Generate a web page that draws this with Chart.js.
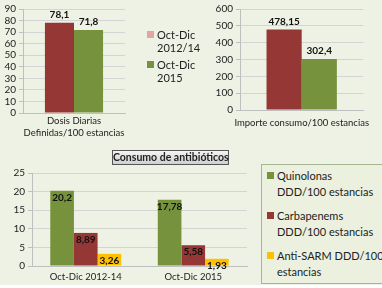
<!DOCTYPE html>
<html>
<head>
<meta charset="utf-8">
<script src="https://cdn.jsdelivr.net/npm/chart.js@4.4.0/dist/chart.umd.min.js"></script>
<style>
  html, body { margin: 0; padding: 0; background: #fff; }
  #page { position: relative; width: 382px; height: 285px; background: #eef2e4; overflow: hidden;
          font-family: Lato, 'Open Sans', sans-serif; color: #222; }
  canvas { position: absolute; }
  .leg { position: absolute; font-size: 11px; line-height: 13px; }
  .leg .sw { display: inline-block; width: 7px; height: 7px; margin-right: 3px; vertical-align: 1px; }
  #title { position: absolute; left: 112px; top: 150px; width: 115px; height: 13px; border: 1px solid #555;
           background: linear-gradient(#f4f4f4, #cfcfcf); font-weight: bold; font-size: 10.5px; line-height: 13px;
           text-align: center; white-space: nowrap; }
  #leg3 { position: absolute; left: 261px; top: 164px; width: 130px; height: 118px; border: 1px solid #a5b591;
          background: #ebf1de; font-size: 11px; line-height: 16px; }
  #leg3 div { position: absolute; left: 5px; white-space: nowrap; }
  #leg3 .sw { display: inline-block; width: 7px; height: 7px; margin-right: 3px; vertical-align: 1px; }
</style>
</head>
<body>
<div id="page">
  <canvas id="c1" width="135" height="140" style="left:0;top:0"></canvas>
  <canvas id="c2" width="192" height="140" style="left:190px;top:0"></canvas>
  <canvas id="c3" width="255" height="122" style="left:0;top:163px"></canvas>

  <div class="leg" style="left:147px;top:28px">
    <div><span class="sw" style="background:#e6a3a6"></span>Oct-Dic</div>
    <div style="padding-left:10px">2012/14</div>
    <div style="margin-top:4px"><span class="sw" style="background:#76923c"></span>Oct-Dic</div>
    <div style="padding-left:10px">2015</div>
  </div>

  <div id="title">Consumo de antibióticos</div>

  <div id="leg3">
    <div style="top:3px"><span class="sw" style="background:#76923c"></span>Quinolonas</div>
    <div style="top:19px;left:15px">DDD/100 estancias</div>
    <div style="top:43px"><span class="sw" style="background:#953735"></span>Carbapenems</div>
    <div style="top:59px;left:15px">DDD/100 estancias</div>
    <div style="top:83px"><span class="sw" style="background:#ffc000"></span>Anti-SARM DDD/100</div>
    <div style="top:99px;left:15px">estancias</div>
  </div>
</div>

<script>
const RED = '#953735';
const GREEN = '#76923c';
const YELLOW = '#ffc000';
const GRID = '#d4d4d4';
const FONT = "Lato, 'Open Sans', sans-serif";

// chart 1: Dosis Diarias
const ddLabels = [['Dosis Diarias', 'Definidas/100 estancias']];
const dd2012 = [78.1];
const dd2015 = [71.8];

// chart 2: Importe consumo
const impLabels = ['Importe consumo/100 estancias'];
const imp2012 = [478.15];
const imp2015 = [302.4];

// chart 3: Consumo de antibióticos
const abxLabels = ['Oct-Dic 2012-14', 'Oct-Dic 2015'];
const quinolonas = [20.2, 17.78];
const carbapenems = [8.89, 5.58];
const antiSarm = [3.26, 1.93];

function fmt(v) { return String(v).replace('.', ','); }

// draws value labels; inside=true puts them just under the bar top
function valueLabels(inside) {
    return {
        id: 'valueLabels',
        afterDatasetsDraw(chart) {
            const ctx = chart.ctx;
            ctx.save();
            ctx.font = 'bold 10px ' + FONT;
            ctx.fillStyle = '#111';
            ctx.textAlign = 'center';
            ctx.textBaseline = 'middle';
            chart.data.datasets.forEach((ds, i) => {
                chart.getDatasetMeta(i).data.forEach((bar, j) => {
                    const y = inside ? bar.y + 7 : bar.y - 8;
                    ctx.fillText(fmt(ds.data[j]), bar.x, y);
                });
            });
            ctx.restore();
        }
    };
}

function makeChart(id, labels, datasets, yMax, yStep, yWidth, xHeight, xPad, pad, pct, inside) {
    return new Chart(document.getElementById(id), {
        type: 'bar',
        data: { labels, datasets },
        options: {
            responsive: false,
            animation: false,
            layout: { padding: pad },
            datasets: { bar: { categoryPercentage: pct, barPercentage: 1 } },
            plugins: { legend: { display: false }, tooltip: { enabled: false } },
            scales: {
                x: {
                    grid: { display: false, drawTicks: false },
                    border: { color: '#bfbfbf' },
                    ticks: { color: '#222', font: { size: 9.5, family: FONT, lineHeight: 1.25 }, padding: xPad, maxRotation: 0 },
                    afterFit(s) { s.height = xHeight; }
                },
                y: {
                    min: 0, max: yMax,
                    grid: { color: GRID, tickLength: 4, tickColor: '#bfbfbf' },
                    border: { color: '#bfbfbf' },
                    ticks: { stepSize: yStep, autoSkip: false, color: '#222', font: { size: 10, family: FONT }, padding: 3 },
                    afterFit(s) { s.width = yWidth; }
                }
            }
        },
        plugins: [valueLabels(inside)]
    });
}

makeChart('c1', ddLabels, [
    { data: dd2012, backgroundColor: RED },
    { data: dd2015, backgroundColor: GREEN }
], 90, 10, 23, 27, 2, { top: 8, right: 10, left: 0, bottom: 0 }, 0.57, false);

makeChart('c2', impLabels, [
    { data: imp2012, backgroundColor: RED },
    { data: imp2015, backgroundColor: GREEN }
], 600, 100, 50, 30, 7, { top: 4, right: 12, left: 0, bottom: 0 }, 0.57, false);

makeChart('c3', abxLabels, [
    { data: quinolonas, backgroundColor: GREEN },
    { data: carbapenems, backgroundColor: RED },
    { data: antiSarm, backgroundColor: YELLOW }
], 25, 5, 32, 19, 5, { top: 10, right: 8, left: 0, bottom: 0 }, 0.66, true);
</script>
</body>
</html>
